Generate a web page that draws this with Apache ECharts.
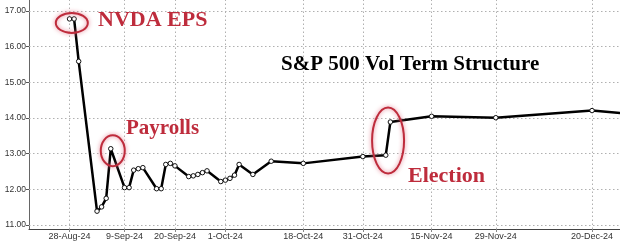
<!DOCTYPE html>
<html>
<head>
<meta charset="utf-8">
<script src="https://cdn.jsdelivr.net/npm/echarts@6/dist/echarts.min.js"></script>
<style>html,body{margin:0;padding:0;background:#fff}#c{width:620px;height:241px}</style>
</head>
<body>
<div id="c"></div>
<script>
// ---- data ----
const dates = ['2024-08-28','2024-08-29','2024-08-30','2024-09-03','2024-09-04','2024-09-05','2024-09-06',
  '2024-09-09','2024-09-10','2024-09-11','2024-09-12','2024-09-13','2024-09-16','2024-09-17','2024-09-18',
  '2024-09-19','2024-09-20','2024-09-23','2024-09-24','2024-09-25','2024-09-26','2024-09-27','2024-09-30',
  '2024-10-01','2024-10-02','2024-10-03','2024-10-04','2024-10-07','2024-10-11','2024-10-18','2024-10-31',
  '2024-11-05','2024-11-06','2024-11-15','2024-11-29','2024-12-20','2024-12-27'];
const vols = [16.78,16.78,15.59,11.39,11.51,11.75,13.14,
  12.05,12.05,12.54,12.58,12.61,12.02,12.02,12.70,
  12.73,12.66,12.36,12.38,12.42,12.47,12.52,12.22,
  12.26,12.31,12.40,12.70,12.42,12.79,12.73,12.92,
  12.96,13.89,14.05,14.01,14.21,14.13];
const xTickDates = ['2024-08-28','2024-09-09','2024-09-20','2024-10-01','2024-10-18','2024-10-31','2024-11-15','2024-11-29','2024-12-20'];
const yTicks = [11,12,13,14,15,16,17];
const title = 'S&P 500 Vol Term Structure';
const notes = ['NVDA EPS','Payrolls','Election'];

const DAY = 86400000;
const ts = d => Date.parse(d + 'T00:00:00Z');
const MON = ['Jan','Feb','Mar','Apr','May','Jun','Jul','Aug','Sep','Oct','Nov','Dec'];
const fmt = v => { const d = new Date(v); return d.getUTCDate() + '-' + MON[d.getUTCMonth()] + '-' + String(d.getUTCFullYear()).slice(2); };

const x0 = ts('2024-08-28');
const chart = echarts.init(document.getElementById('c'), null, {renderer:'canvas'});
const red = '#be2c3c';
const gridStyle = {color:'#b0b0b0', type:[1.5,2.5], width:1};

const gridLines = [].concat(
  xTickDates.map(d => ({xAxis: ts(d)})),
  yTicks.map(v => ({yAxis: v}))
);

chart.setOption({
  animation:false,
  backgroundColor:'#fff',
  grid:{left:29, right:0, top:0, bottom:11, containLabel:false},
  xAxis:{
    type:'value',
    min: x0 - 8.84*DAY,
    max: x0 + 120.1*DAY,
    axisLine:{show:true, lineStyle:{color:'#444', width:1.2}},
    axisTick:{show:true, length:3, customValues: xTickDates.map(ts), lineStyle:{color:'#888'}},
    axisLabel:{customValues: xTickDates.map(ts), formatter: v => fmt(v), color:'#333',
      fontFamily:'Liberation Sans', fontSize:9, margin:3, hideOverlap:false},
    splitLine:{show:false}
  },
  yAxis:{
    type:'value',
    min:10.89, max:17.31,
    axisLine:{show:true, lineStyle:{color:'#666', width:1}},
    axisTick:{show:true, length:3, customValues:yTicks, lineStyle:{color:'#555'}},
    axisLabel:{customValues:yTicks, formatter: v => v.toFixed(2), color:'#333',
      fontFamily:'Liberation Sans', fontSize:8.5, margin:3},
    splitLine:{show:false}
  },
  series:[{
    type:'line',
    data: dates.map((d,i)=>[ts(d), vols[i]]),
    symbol:'circle', symbolSize:4.5, showSymbol:true,
    lineStyle:{color:'#000', width:2.5},
    itemStyle:{color:'#fff', borderColor:'#111', borderWidth:1},
    clip:true, z:3,
    markLine:{
      silent:true, symbol:'none', animation:false, z:1,
      label:{show:false},
      lineStyle:gridStyle,
      emphasis:{disabled:true},
      data: gridLines
    }
  }]
});

// annotations anchored to data points
const P = (d, v) => chart.convertToPixel({gridIndex:0}, [ts(d), v]);
const n0 = P('2024-08-28', 16.78), n0b = P('2024-08-29', 16.78);
const n1 = P('2024-09-06', 13.14);
const n2a = P('2024-11-05', 12.96), n2b = P('2024-11-06', 13.89);
const ell = (cx, cy, rx, ry) => ({type:'ellipse', shape:{cx, cy, rx, ry}, z:10,
  style:{fill:null, stroke:red, lineWidth:2, shadowBlur:4, shadowColor:'rgba(225,110,130,0.9)'}});
const txt = (t, x, y, size) => ({type:'text', x, y, z:10,
  style:{text:t, fill:red, font:'bold ' + size + 'px "Liberation Serif"', verticalAlign:'middle', align:'left'}});

chart.setOption({graphic:[
  ell((n0[0]+n0b[0])/2, n0[1]+4, 16, 10),
  ell(n1[0]+2, n1[1]+2, 12, 15.5),
  ell((n2a[0]+n2b[0])/2, (n2a[1]+n2b[1])/2+2, 16, 33),
  txt(notes[0], 98, 20, 22),
  txt(notes[1], 126, 129, 21),
  txt(notes[2], 408, 176, 22),
  {type:'text', x:281, y:65, z:10, style:{text:title, fill:'#000', font:'bold 21px "Liberation Serif"', verticalAlign:'middle', align:'left'}}
]});
</script>
</body>
</html>
